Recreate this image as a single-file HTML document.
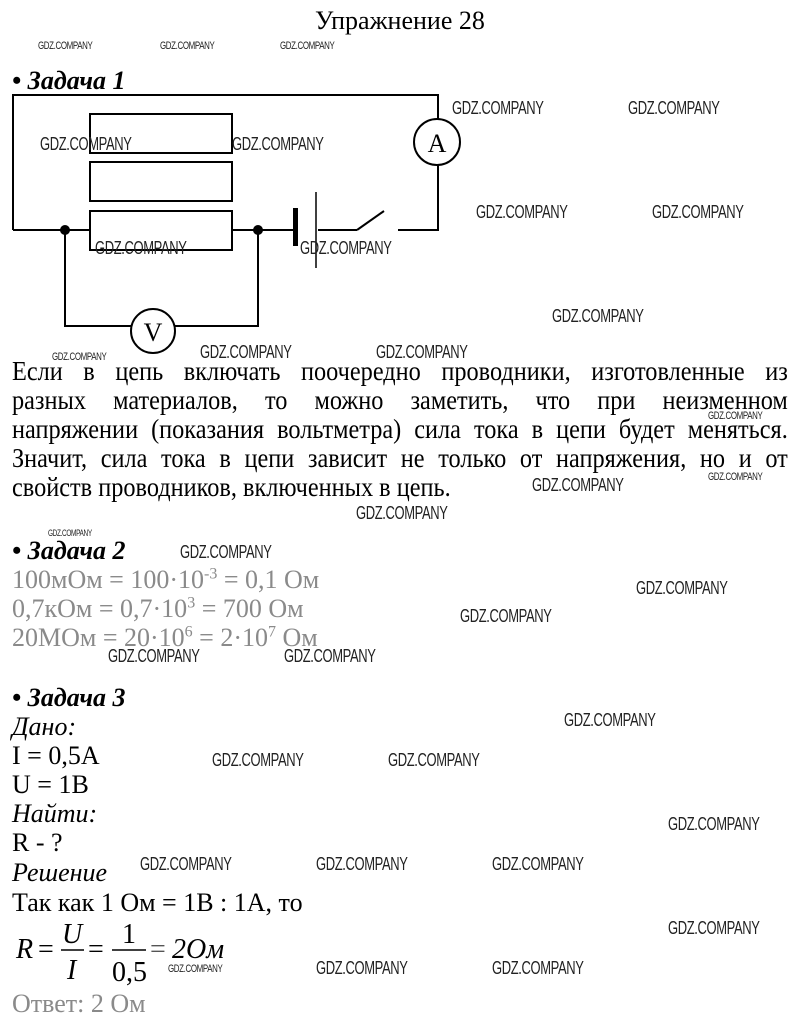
<!DOCTYPE html>
<html><head><meta charset="utf-8"><style>
html,body{margin:0;padding:0;background:#fff;width:800px;height:1024px;overflow:hidden;position:relative}
.t{position:absolute;font-family:"Liberation Serif","DejaVu Serif",serif;font-size:26px;color:#000;white-space:nowrap;line-height:29px}
.h{font-weight:bold;font-style:italic}
.g{color:#8a8a8a}
.w{position:absolute;font-family:"Liberation Sans","DejaVu Sans",sans-serif;color:#222;white-space:nowrap;transform-origin:0 0;transform:scaleX(0.72);letter-spacing:-0.5px}
.s{font-size:18px}
.x{font-size:11px}
.p{position:absolute;left:12px;width:862px;transform-origin:0 0;transform:scaleX(0.9);font-family:"Liberation Serif",serif;font-size:27px;line-height:29px;top:357px}
.p div{text-align:justify;text-align-last:justify;white-space:nowrap}
.p div.l{text-align-last:left}
</style></head><body>
<div class="t" style="left:315px;top:6px">Упражнение 28</div>
<div class="w x" style="left:38px;top:40px">GDZ.COMPANY</div>
<div class="w x" style="left:160px;top:40px">GDZ.COMPANY</div>
<div class="w x" style="left:280px;top:40px">GDZ.COMPANY</div>
<div class="t h" style="left:12px;top:66px">• Задача 1</div>

<svg style="position:absolute;left:0;top:0" width="800" height="360">
<g stroke="#000" stroke-width="2" fill="none">
<polyline points="13,230 13,95 438,95 438,119"/>
<polyline points="438,165 438,230 398,230"/>
<polyline points="13,230 90,230"/>
<line x1="232" y1="230" x2="293" y2="230"/>
<line x1="318" y1="230" x2="357" y2="230"/>
<line x1="357" y1="230" x2="384" y2="211"/>
<rect x="90" y="114" width="142" height="39"/>
<rect x="90" y="162" width="142" height="39"/>
<rect x="90" y="211" width="142" height="39"/>
<polyline points="65,230 65,326 131,326"/>
<polyline points="175,326 258,326 258,230"/>
<circle cx="153" cy="331" r="22"/>
<circle cx="437" cy="142" r="23"/>
<line x1="316" y1="192" x2="316" y2="268" stroke-width="1.5"/>
</g>
<rect x="293" y="208" width="5" height="38" fill="#000"/>
<circle cx="65" cy="230" r="5" fill="#000"/>
<circle cx="258" cy="230" r="5" fill="#000"/>
<text x="153" y="341" font-family="Liberation Serif" font-size="26" text-anchor="middle">V</text>
<text x="437" y="152" font-family="Liberation Serif" font-size="26" text-anchor="middle">A</text>
</svg>

<div class="w s" style="left:40px;top:134px">GDZ.COMPANY</div>
<div class="w s" style="left:232px;top:134px">GDZ.COMPANY</div>
<div class="w s" style="left:95px;top:238px">GDZ.COMPANY</div>
<div class="w s" style="left:300px;top:238px">GDZ.COMPANY</div>
<div class="w s" style="left:452px;top:98px">GDZ.COMPANY</div>
<div class="w s" style="left:628px;top:98px">GDZ.COMPANY</div>
<div class="w s" style="left:476px;top:202px">GDZ.COMPANY</div>
<div class="w s" style="left:652px;top:202px">GDZ.COMPANY</div>
<div class="w s" style="left:552px;top:306px">GDZ.COMPANY</div>
<div class="w x" style="left:52px;top:351px">GDZ.COMPANY</div>
<div class="w s" style="left:200px;top:342px">GDZ.COMPANY</div>
<div class="w s" style="left:376px;top:342px">GDZ.COMPANY</div>

<div class="p">
<div>Если в цепь включать поочередно проводники, изготовленные из</div>
<div>разных материалов, то можно заметить, что при неизменном</div>
<div>напряжении (показания вольтметра) сила тока в цепи будет меняться.</div>
<div>Значит, сила тока в цепи зависит не только от напряжения, но и от</div>
<div class="l">свойств проводников, включенных в цепь.</div>
</div>
<div class="w x" style="left:708px;top:410px">GDZ.COMPANY</div>
<div class="w x" style="left:708px;top:471px">GDZ.COMPANY</div>
<div class="w s" style="left:532px;top:475px">GDZ.COMPANY</div>
<div class="w s" style="left:356px;top:503px">GDZ.COMPANY</div>

<div class="w" style="left:48px;top:528px;font-size:9px">GDZ.COMPANY</div>
<div class="t h" style="left:12px;top:536px">• Задача 2</div>
<div class="w s" style="left:180px;top:542px">GDZ.COMPANY</div>
<div class="t g" style="left:12px;top:565px">100мОм = 100·10<sup style="font-size:16px;line-height:0">-3</sup> = 0,1 Ом</div>
<div class="t g" style="left:12px;top:594px">0,7кОм = 0,7·10<sup style="font-size:16px;line-height:0">3</sup> = 700 Ом</div>
<div class="t g" style="left:12px;top:623px">20МОм = 20·10<sup style="font-size:16px;line-height:0">6</sup> = 2·10<sup style="font-size:16px;line-height:0">7</sup> Ом</div>
<div class="w s" style="left:636px;top:578px">GDZ.COMPANY</div>
<div class="w s" style="left:460px;top:606px">GDZ.COMPANY</div>
<div class="w s" style="left:108px;top:646px">GDZ.COMPANY</div>
<div class="w s" style="left:284px;top:646px">GDZ.COMPANY</div>

<div class="t h" style="left:12px;top:683px">• Задача 3</div>
<div class="t" style="left:12px;top:712px;font-style:italic">Дано:</div>
<div class="t" style="left:12px;top:741px">I = 0,5А</div>
<div class="t" style="left:12px;top:770px">U = 1В</div>
<div class="t" style="left:12px;top:799px;font-style:italic">Найти:</div>
<div class="t" style="left:12px;top:828px">R - ?</div>
<div class="t" style="left:12px;top:858px;font-style:italic">Решение</div>
<div class="t" style="left:12px;top:888px">Так как 1 Ом = 1В : 1А, то</div>
<div class="w s" style="left:564px;top:710px">GDZ.COMPANY</div>
<div class="w s" style="left:212px;top:750px">GDZ.COMPANY</div>
<div class="w s" style="left:388px;top:750px">GDZ.COMPANY</div>
<div class="w s" style="left:668px;top:814px">GDZ.COMPANY</div>
<div class="w s" style="left:140px;top:854px">GDZ.COMPANY</div>
<div class="w s" style="left:316px;top:854px">GDZ.COMPANY</div>
<div class="w s" style="left:492px;top:854px">GDZ.COMPANY</div>
<div class="w s" style="left:668px;top:918px">GDZ.COMPANY</div>

<svg style="position:absolute;left:0;top:915px" width="260" height="75">
<g font-family="Liberation Serif" font-size="28" font-style="italic">
<text x="16" y="43">R</text>
<text x="38" y="43" font-style="normal">=</text>
<text x="62" y="28">U</text>
<text x="67" y="64">I</text>
<text x="88" y="43" font-style="normal">=</text>
<text x="122" y="28" font-style="normal">1</text>
<text x="112" y="66" font-style="normal">0,5</text>
<text x="150" y="43" font-style="normal" fill="#555">=</text>
<text x="172" y="43">2Ом</text>
</g>
<line x1="61" y1="35" x2="84" y2="35" stroke="#000" stroke-width="1.5"/>
<line x1="112" y1="35" x2="146" y2="35" stroke="#000" stroke-width="1.5"/>
</svg>
<div class="w x" style="left:168px;top:963px">GDZ.COMPANY</div>
<div class="w s" style="left:316px;top:958px">GDZ.COMPANY</div>
<div class="w s" style="left:492px;top:958px">GDZ.COMPANY</div>
<div class="t g" style="left:12px;top:989px">Ответ: 2 Ом</div>
</body></html>
